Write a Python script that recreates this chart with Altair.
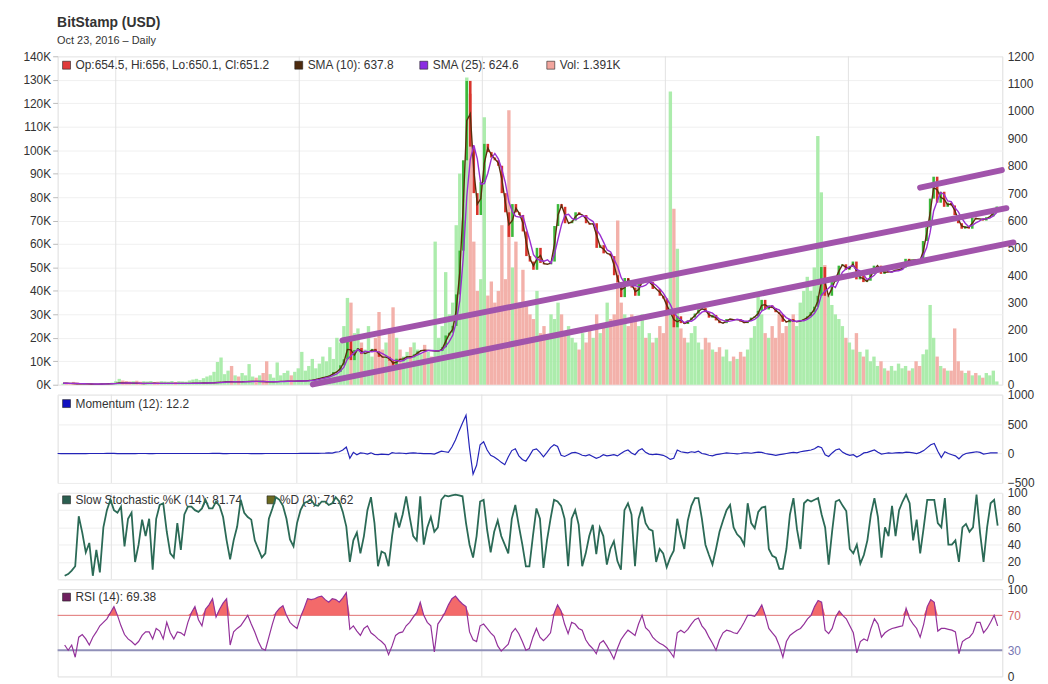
import altair as alt
import pandas as pd
import numpy as np

FONT = "Liberation Sans"

# ---------------- data ----------------
price_start = "2011-09-18"      # weekly samples, last one = 2016-10-23
ind_start = "2011-09-17"        # indicator samples
ind_step_days = 6.947

close = [5.3,5.1,5.0,4.1,3.3,3.2,3.2,3.0,2.3,2.3,
         2.5,2.9,3.2,3.5,4.2,5.3,6.9,6.5,6.3,5.6,
         5.7,5.2,4.4,4.9,4.9,5.3,5.2,4.8,4.9,4.9,
         4.9,5.1,5.0,5.0,5.0,5.1,5.1,5.3,5.6,6.2,
         6.4,6.7,6.9,7.8,8.7,8.9,10.8,11.6,9.9,10.6,
         10.3,11.0,11.8,12.2,12.4,11.8,11.8,11.5,10.7,10.9,
         10.9,11.8,12.3,12.6,13.4,13.3,13.4,13.5,13.7,14.4,
         16.1,17.9,20.4,24.2,26.8,30.4,34.5,46.5,47.0,71,
         93,165,90,127,134,112,116,122,131,122,
         102,100,102,88,70,95,90,99,104,100,
         111,122,127,125,126,123,123,123,137,180,
         190,215,330,490,820,1110,870,700,620,740,
         880,850,830,820,800,700,630,540,660,630,
         620,560,470,450,420,500,445,440,440,450,
         580,660,650,590,590,600,630,620,620,590,
         585,590,500,510,480,480,470,400,375,320,
         390,380,355,325,370,385,375,375,350,350,
         325,315,265,265,210,250,225,222,235,245,
         260,275,280,265,245,255,235,225,225,240,
         240,236,240,230,225,233,245,250,270,310,
         275,290,280,265,258,230,228,240,230,230,
         235,240,250,265,285,325,430,325,325,375,
         395,435,440,420,430,450,385,400,375,380,
         405,435,435,405,415,410,415,420,420,428,
         460,450,458,455,445,525,575,680,760,665,
         705,650,665,655,620,590,570,580,570,610,
         605,607,600,612,615,640,651]

volume_k = [0.5,0.8,0.6,1.2,1.0,0.7,0.5,0.4,0.6,0.5,
            0.4,0.6,0.5,0.7,0.9,1.5,2.5,1.8,1.6,1.4,
            1.5,1.7,1.3,1.5,1.4,1.6,1.2,1.3,1.5,1.4,
            1.3,1.6,1.2,1.5,1.4,1.3,1.8,2.2,2.5,2.0,
            2.8,3.5,4.0,5.5,9.7,11.6,4.5,6.0,8.0,4.0,
            3.5,5.0,4.0,8.8,3.5,3.0,4.0,5.0,10.0,4.5,
            3.0,9.5,4.0,5.0,6.0,4.0,5.5,7.0,14,6,
            8,11,7,9,12,10,16,11,20,18,
            25,37,35,22,24,18,15,25,12,20,
            31,15,18,24,33,20,15,12,14,16,
            18,15,13,17,14,12,61,20,25,48,
            30,35,68,90,70,131,124,61,40,45,
            114,38,44,35,40,68,45,117,50,61,
            35,49,35,30,28,40,22,25,20,30,
            28,35,30,22,25,20,18,15,22,18,
            25,20,30,22,25,35,28,30,70,35,
            30,25,30,28,25,30,20,22,18,20,
            25,22,30,125,75,58,24,20,18,22,
            25,18,15,20,18,15,14,16,12,15,
            10,12,11,14,12,15,20,25,38,30,
            22,20,25,20,30,22,25,28,30,25,
            35,40,46,40,50,106,82,51,38,34,
            30,28,25,20,18,15,22,14,12,15,
            10,12,8,10,7,6,8,6,9,7,
            8,6,7,10,8,13,15,34,20,12,
            8,7,6,6,24,10,6,5,6,4,
            5,4,3,5,4,6,1.4]

momentum = [0.3,-0.2,-0.5,-1.0,-1.5,-0.8,-0.2,-0.5,-0.6,0.1,
            0.3,0.5,0.4,0.6,1.0,1.5,1.2,-0.5,-0.3,-0.6,
            -0.2,-0.8,-0.4,0.3,0.2,0.3,-0.3,-0.2,0.1,0,
            0.1,0.1,0,0,0.1,0.1,0.2,0.4,0.5,0.3,
            0.3,0.3,0.5,0.9,1.0,1.5,2.0,-1.5,-0.5,0.5,
            0.3,0.5,0.8,0.4,0.2,-0.5,-0.3,-0.6,-0.3,0.1,
            0.5,0.6,0.4,0.7,0.3,0.1,0.1,0.2,0.4,1.0,
            2.0,2.5,3.0,4.0,3.5,4.5,6,10,8,25,
            30,60,110,-80,20,-20,10,5,-10,12,
            -15,-20,-10,-15,-20,15,5,8,5,-3,
            8,12,6,2,-2,0,-3,-10,15,40,
            30,20,110,230,380,520,650,85,-350,-200,
            150,200,60,-30,-60,-100,-150,-190,-60,50,
            80,-40,-100,-130,-40,60,80,20,-55,20,
            100,150,120,-30,-50,-20,10,20,0,-30,
            -40,-20,-50,-80,-60,-20,-40,-30,-20,-40,
            0,40,60,10,-20,50,80,20,-10,-20,
            -10,-20,-30,-60,-100,-80,60,30,20,10,
            30,20,40,0,-10,-30,-40,-20,-10,0,
            10,5,0,-5,0,10,10,5,15,25,
            20,0,-10,-20,-30,-20,-10,0,10,20,
            10,30,40,50,60,80,120,100,-20,-50,
            10,60,80,20,-10,-30,-20,-60,-30,10,
            20,40,60,20,-10,0,10,5,10,15,
            10,25,20,10,0,20,50,100,150,170,
            40,-70,30,0,-20,-40,-90,-30,0,10,
            20,30,20,-10,0,10,12,12]

stoch_k = [None,None,4,6,10,15,73,54,31,42,
           4,34,8,60,80,92,80,77,84,38,
           70,77,20,40,69,50,70,11,70,86,
           88,55,30,25,65,34,75,84,84,80,
           78,82,92,82,82,90,85,72,45,23,
           45,61,92,77,72,69,45,35,25,30,
           70,82,95,92,85,70,46,38,65,80,
           88,90,92,86,85,90,90,86,88,95,
           90,78,61,20,45,54,30,50,80,95,
           65,15,32,30,15,50,77,60,75,96,
           72,50,45,96,40,60,72,55,60,92,
           97,96,97,98,97,96,65,40,25,50,
           90,92,57,31,55,68,50,40,30,70,
           86,62,40,15,15,50,82,70,13,45,
           70,92,90,85,70,15,70,80,63,15,
           30,50,63,29,60,50,17,35,44,21,
           11,80,88,75,15,70,84,65,58,56,
           20,35,30,14,25,33,70,50,35,68,
           85,94,94,70,40,28,17,35,55,68,
           80,86,60,52,48,40,88,65,59,78,
           83,84,35,27,25,12,12,35,75,94,
           58,35,88,92,90,92,94,75,60,17,
           56,90,92,85,79,35,30,40,18,28,
           45,75,94,72,25,60,50,85,50,80,
           90,98,88,45,69,30,60,92,92,92,
           65,60,94,40,40,45,20,60,64,55,
           60,98,54,20,60,88,92,62]

rsi = [None,None,36,30,36,22,45,48,43,36,
       45,51,58,62,66,73,80,70,58,48,
       43,40,36,40,47,51,51,43,55,52,
       43,62,50,43,51,50,47,62,73,80,
       65,58,77,82,89,68,77,84,89,36,
       51,55,58,64,70,60,51,40,32,30,
       45,60,73,78,81,70,62,58,55,68,
       78,89,88,89,91,92,88,85,89,88,
       85,90,96,54,58,52,47,55,58,50,
       47,43,40,36,25,35,47,50,51,58,
       62,68,73,85,70,62,58,28,60,66,
       73,82,89,92,87,83,80,51,42,40,
       58,60,55,50,46,35,29,33,37,50,
       55,49,40,30,32,45,55,45,41,45,
       50,72,82,75,60,49,62,60,55,53,
       42,36,32,26,38,41,35,28,20,32,
       42,48,53,50,47,60,70,56,52,45,
       41,38,36,33,28,22,50,53,50,54,
       60,65,67,58,53,45,38,30,42,50,
       53,52,50,49,55,62,70,70,69,75,
       82,70,55,50,45,35,22,40,47,50,
       53,55,60,66,70,80,87,85,53,49,
       55,68,75,70,66,58,50,27,40,43,
       41,55,66,60,45,50,53,55,56,57,
       58,78,66,60,55,45,60,80,88,85,
       52,55,55,54,53,51,26,40,43,45,
       50,62,62,50,55,62,70,58]

# hand-drawn trend lines (date, price)
trend_seg = ["a", "a", "b", "b", "c", "c"]
trend_date = ["2013-03-28", "2016-11-11", "2013-01-28", "2016-11-25", "2016-05-23", "2016-11-02"]
trend_price = [162, 645, 1, 520, 720, 784]

x_domain = ["2011-09-17", "2016-10-24"]
year_lines = ["2012-01-01", "2013-01-01", "2014-01-01", "2015-01-01", "2016-01-01"]

# ---------------- tables ----------------
n = min(len(close), len(volume_k))
pdates = pd.date_range(price_start, periods=n, freq="7D")
opens = [close[0]] + close[:n - 1]
price_df = pd.DataFrame({
    "date": pdates, "close": close[:n], "open": opens[:n], "vol": volume_k[:n],
})
price_df["dir"] = np.where(price_df["close"] >= price_df["open"], "up", "down")

def ind_frame(vals, name):
    d = pd.Timestamp(ind_start) + pd.to_timedelta(np.arange(len(vals)) * ind_step_days, unit="D")
    return pd.DataFrame({"date": d, name: pd.array(vals, dtype="Float64").astype(float)})

mom_df = ind_frame(momentum, "mom")
sto_df = ind_frame(stoch_k, "k")
rsi_df = ind_frame(rsi, "rsi")
trend_df = pd.DataFrame({"seg": trend_seg, "date": pd.to_datetime(trend_date), "price": trend_price})
year_df = pd.DataFrame({"date": pd.to_datetime(year_lines)})

W = 952
LBL = dict(labelFont=FONT, labelFontSize=12, labelColor="#333333")
xscale = alt.Scale(domain=x_domain)
X = alt.X("date:T", scale=xscale, axis=None)

dummy = pd.DataFrame({"k": [0]})

def year_grid():
    return alt.Chart(year_df).mark_rule(color="#e2e2e2", strokeWidth=1).encode(x=X)

def legend_item(px, py, color, label, size=8):
    sq = alt.Chart(dummy).mark_rect(fill=color, stroke="#222", strokeWidth=0.6).encode(
        x=alt.value(px), x2=alt.value(px + size), y=alt.value(py - size / 2), y2=alt.value(py + size / 2))
    tx = alt.Chart(dummy).mark_text(text=label, align="left", baseline="middle", font=FONT,
                                    fontSize=12, color="#333").encode(
        x=alt.value(px + size + 5), y=alt.value(py))
    return [sq, tx]

# ---------------- main panel ----------------
vol_axis = alt.Axis(title=None, orient="left", values=list(range(0, 141, 10)),
                    labelExpr="datum.value + 'K'", tickSize=5, tickColor="#bbbbbb",
                    labelPadding=2, minExtent=44, maxExtent=44, grid=True, gridColor="#f0f0f0",
                    domain=False, **LBL)
vol_scale = alt.Scale(domain=[0, 140], nice=False)
price_axis = alt.Axis(title=None, orient="right", values=list(range(0, 1201, 100)), format="d",
                      ticks=False, labelPadding=5, grid=False, domain=False, **LBL)
price_scale = alt.Scale(domain=[0, 1200], nice=False)

pbase = alt.Chart(price_df)
vol_up = pbase.transform_filter("datum.dir == 'up'").mark_bar(width=3.4, color="#a3eaa3", opacity=0.9).encode(
    x=X, y=alt.Y("vol:Q", scale=vol_scale, axis=vol_axis))
vol_dn = pbase.transform_filter("datum.dir == 'down'").mark_bar(width=3.4, color="#f2a9a1", opacity=0.9).encode(
    x=X, y=alt.Y("vol:Q", scale=vol_scale, axis=vol_axis))
vol_layer = alt.layer(vol_up, vol_dn)

c_up = pbase.transform_filter("datum.dir == 'up'").mark_bar(width=2.6, color="#3cb83c").encode(
    x=X, y=alt.Y("open:Q", scale=price_scale, axis=price_axis), y2="close:Q")
c_dn = pbase.transform_filter("datum.dir == 'down'").mark_bar(width=2.6, color="#d8342c").encode(
    x=X, y=alt.Y("open:Q", scale=price_scale, axis=price_axis), y2="close:Q")
sma10 = pbase.transform_window(sma10="mean(close)", frame=[-1, 0], sort=[alt.SortField("date")]).mark_line(
    color="#5a2e0c", strokeWidth=1.4).encode(x=X, y=alt.Y("sma10:Q", scale=price_scale, axis=price_axis))
sma25 = pbase.transform_window(sma25="mean(close)", frame=[-3, 0], sort=[alt.SortField("date")]).mark_line(
    color="#9b30d0", strokeWidth=1.4).encode(x=X, y=alt.Y("sma25:Q", scale=price_scale, axis=price_axis))
trend = alt.Chart(trend_df).mark_line(color="#a154ab", strokeWidth=6, strokeCap="round", clip=False).encode(
    x=X, y=alt.Y("price:Q", scale=price_scale, axis=price_axis), detail="seg:N")
price_layer = alt.layer(c_up, c_dn, sma10, sma25, trend)

main_leg = (legend_item(5, 9, "#e03a3a", "Op:654.5, Hi:656, Lo:650.1, Cl:651.2")
            + legend_item(239, 9, "#4d2a0e", "SMA (10): 637.8")
            + legend_item(365, 9, "#8a2be2", "SMA (25): 624.6")
            + legend_item(493, 9, "#f2a59d", "Vol: 1.391K"))
main = alt.layer(year_grid(), *main_leg, vol_layer, price_layer).resolve_scale(y="independent").properties(
    width=W, height=331)

# ---------------- momentum ----------------
mom_axis = alt.Axis(title=None, orient="right", values=[-500, 0, 500, 1000], format="d", ticks=False,
                    labelPadding=5, grid=True, gridColor="#eeeeee", domain=False, **LBL)
mom_line = alt.Chart(mom_df).mark_line(color="#2424b8", strokeWidth=1.2).encode(
    x=X, y=alt.Y("mom:Q", scale=alt.Scale(domain=[-500, 1000], nice=False), axis=mom_axis))
mom = alt.layer(year_grid(), *legend_item(5, 9, "#1010c0", "Momentum (12): 12.2"), mom_line).properties(
    width=W, height=89)

# ---------------- stochastic ----------------
sto_axis = alt.Axis(title=None, orient="right", values=[0, 20, 40, 60, 80, 100], ticks=False, labelPadding=5,
                    grid=True, gridColor="#eeeeee", domain=False, **LBL)
sto_line = alt.Chart(sto_df).mark_line(color="#2b6a56", strokeWidth=1.8).encode(
    x=X, y=alt.Y("k:Q", scale=alt.Scale(domain=[0, 100], nice=False), axis=sto_axis))
sto = alt.layer(year_grid(), *(legend_item(5, 7, "#2b5e50", "Slow Stochastic %K (14): 81.74")
                               + legend_item(211, 7, "#6b6a20", "%D (3): 71.62")), sto_line).properties(
    width=W, height=87)

# ---------------- RSI ----------------
rsi_scale = alt.Scale(domain=[0, 100], nice=False)
rsi_axis = alt.Axis(title=None, orient="right", values=[0, 30, 70, 100], ticks=False, labelPadding=5,
                    grid=False, domain=False, labelFont=FONT, labelFontSize=12,
                    labelColor={"expr": "datum.value == 70 ? '#d46a6a' : datum.value == 30 ? '#7878b4' : '#333333'"})
rbase = alt.Chart(rsi_df)
rsi_fill = rbase.transform_filter("isValid(datum.rsi)").transform_calculate(hi="max(datum.rsi, 70)").mark_area(
    color="#f25a5a", opacity=0.9).encode(
    x=X, y=alt.Y("hi:Q", scale=rsi_scale, axis=rsi_axis), y2=alt.Y2(datum=70))
r70 = alt.Chart(dummy).mark_rule(color="#e07070", strokeWidth=1).encode(
    y=alt.YDatum(70, scale=rsi_scale, axis=rsi_axis))
r30 = alt.Chart(dummy).mark_rule(color="#9090b8", strokeWidth=2).encode(
    y=alt.YDatum(30, scale=rsi_scale, axis=rsi_axis))
rsi_line = rbase.mark_line(color="#93319a", strokeWidth=1.2).encode(
    x=X, y=alt.Y("rsi:Q", scale=rsi_scale, axis=rsi_axis))
rsi_p = alt.layer(year_grid(), *legend_item(5, 8, "#6e1f5e", "RSI (14): 69.38"), r70, r30, rsi_fill,
                  rsi_line).properties(width=W, height=88)

chart = alt.vconcat(main, mom, sto, rsi_p, spacing=10, bounds="flush").properties(
    title=alt.TitleParams(text="BitStamp (USD)", subtitle="Oct 23, 2016 – Daily", anchor="start",
                          font=FONT, fontSize=14, fontWeight="bold", color="#333333",
                          subtitleFont=FONT, subtitleFontSize=11, subtitleColor="#333333",
                          subtitlePadding=5, offset=4, dx=44)
).configure_view(stroke="#dddddd").configure(background="white")

chart.save("out.html", embed_options={"renderer": "svg", "actions": False})
